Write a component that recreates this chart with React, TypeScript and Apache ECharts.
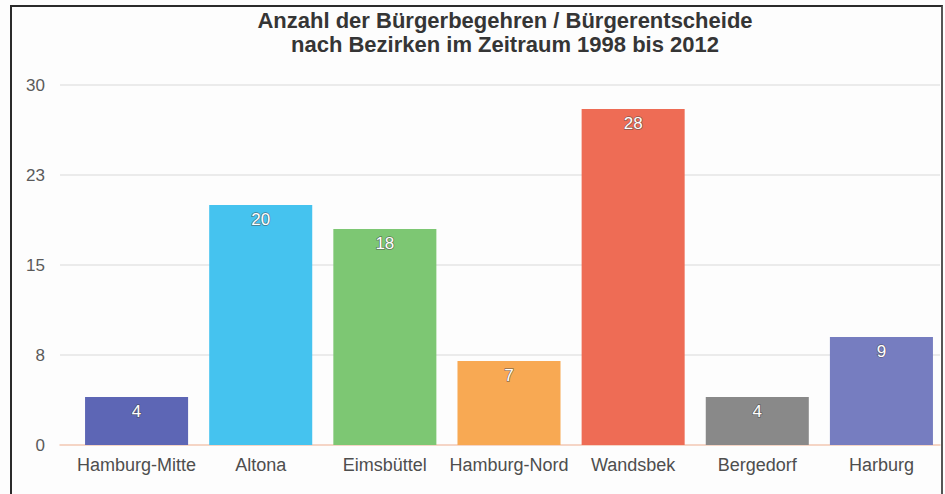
import React, { useEffect, useRef } from "react";
import * as echarts from "echarts";

const categories = ["Hamburg-Mitte", "Altona", "Eimsbüttel", "Hamburg-Nord", "Wandsbek", "Bergedorf", "Harburg"];
const values = [4, 20, 18, 7, 28, 4, 9];
const barColors = ["#5d66b5", "#45c3ef", "#7dc773", "#f8a953", "#ee6c55", "#898989", "#767dc0"];
const titleLines = ["Anzahl der Bürgerbegehren / Bürgerentscheide", "nach Bezirken im Zeitraum 1998 bis 2012"];
const yMin = 0;
const yMax = 30;
const yInterval = 7.5;

export default function App() {
  const ref = useRef<HTMLDivElement>(null);
  useEffect(() => {
    if (!ref.current) return;
    const chart = echarts.init(ref.current, undefined, { renderer: "svg" });
    const font = "'Liberation Sans', Arial, sans-serif";
    chart.setOption({
      animation: false,
      backgroundColor: "#fdfdfd",
      graphic: [
        {
          type: "text",
          x: 505,
          y: 8,
          style: {
            text: titleLines.join("\n"),
            align: "center",
            verticalAlign: "top",
            font: `bold 22px ${font}`,
            lineHeight: 24,
            fill: "#353535",
          },
        },
      ],
      grid: [
        { left: 60, right: 5, top: 85, bottom: 49 },
        { left: 74.5, right: 1.5, top: 85, bottom: 49 },
      ],
      xAxis: [
        {
          gridIndex: 0,
          type: "value",
          min: 0,
          max: 1,
          axisLine: { show: true, lineStyle: { color: "#f2c7b3", width: 1.5 } },
          axisTick: { show: false },
          axisLabel: { show: false },
          splitLine: { show: false },
        },
        {
          gridIndex: 1,
          type: "category",
          data: categories,
          axisLine: { show: false },
          axisTick: { show: false },
          axisLabel: {
            color: "#4e4e4e",
            fontFamily: font,
            fontSize: 18,
            margin: 11,
            interval: 0,
          },
        },
      ],
      yAxis: [
        {
          gridIndex: 0,
          type: "value",
          min: yMin,
          max: yMax,
          interval: yInterval,
          axisLine: { show: false },
          axisTick: { show: false },
          axisLabel: {
            color: "#5a5a5a",
            fontFamily: font,
            fontSize: 17,
            margin: 15,
            formatter: (v: number) => String(Math.round(v)),
          },
          splitLine: {
            show: true,
            lineStyle: { color: "#e4e4e4", width: 1.5 },
            showMinLine: false,
          } as any,
        },
        {
          gridIndex: 1,
          type: "value",
          min: yMin,
          max: yMax,
          interval: yInterval,
          show: false,
          splitLine: { show: false },
        },
      ],
      series: [
        {
          type: "bar",
          xAxisIndex: 1,
          yAxisIndex: 1,
          barCategoryGap: "17%",
          data: values.map((v, i) => ({ value: v, itemStyle: { color: barColors[i] } })),
          label: {
            show: true,
            position: "insideTop",
            distance: 6,
            color: "#ffffff",
            fontFamily: font,
            fontSize: 17,
            textBorderColor: "rgba(70,70,70,0.6)",
            textBorderWidth: 1.5,
          },
        },
      ],
    });
    return () => chart.dispose();
  }, []);
  return (
    <div style={{ position: "absolute", left: 0, top: 0, width: 945, height: 494, overflow: "hidden" }}>
      <div ref={ref} style={{ position: "absolute", left: 0, top: 0, width: 945, height: 494 }} />
      <div
        style={{
          position: "absolute",
          left: 10,
          top: 5,
          width: 929,
          height: 489,
          borderTop: "2px solid #2a2a2a",
          borderLeft: "2px solid #2a2a2a",
          borderRight: "2px solid #555",
          pointerEvents: "none",
        }}
      />
    </div>
  );
}
